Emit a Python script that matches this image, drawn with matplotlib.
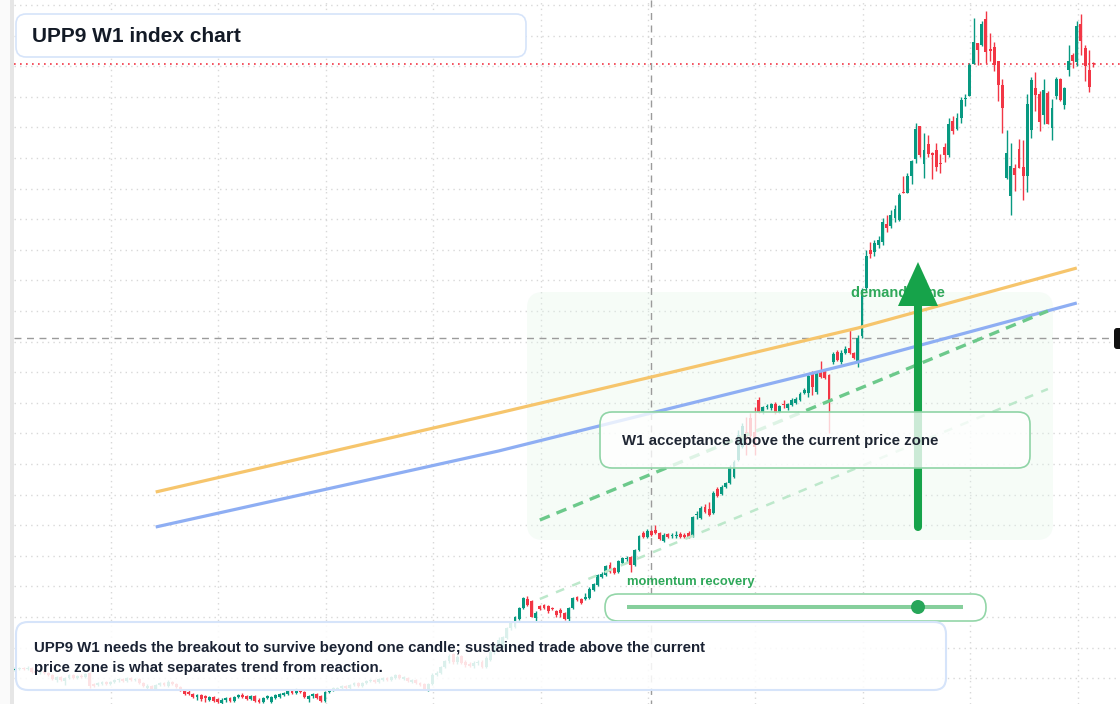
import numpy as np
import matplotlib.pyplot as plt
from matplotlib.patches import FancyBboxPatch, Rectangle, Circle, Polygon
from matplotlib.lines import Line2D
from matplotlib.transforms import Affine2D

plt.rcParams['font.family'] = ['Liberation Sans', 'DejaVu Sans']

W, H = 1120, 704
GREEN = '#089981'
RED = '#f23645'

# weekly candles (index points)
opens = [330, 331, 332, 331, 332, 329, 327, 329, 327, 325, 320, 323, 319, 322, 325, 322, 324, 323, 327, 316,
         315, 316, 318, 316, 318, 320, 321, 319, 322, 320, 321, 317, 312, 314, 311, 315, 317, 314, 318, 316,
         313, 310, 308, 306, 303, 305, 304, 300, 303, 301, 297, 300, 302, 299, 303, 305, 304, 301, 304, 300,
         298, 302, 298, 302, 303, 305, 306, 309, 307, 310, 308, 301, 304, 306, 304, 299, 308, 310, 311, 312,
         314, 312, 315, 317, 314, 317, 319, 320, 318, 320, 322, 320, 322, 325, 321, 322, 318, 320, 317, 316,
         310, 316, 325, 327, 333, 339, 346, 338, 344, 338, 336, 334, 337,
         338, 333, 340, 348, 354, 353, 362, 372, 373, 381, 392, 401, 399, 382, 394, 395, 394, 392, 389, 390,
         387, 381, 392, 403, 401, 401, 402, 410, 415, 423, 425, 435, 432, 428, 437, 441, 443, 435, 450, 467,
         463, 469, 470, 467, 459, 466, 464, 464, 466, 465, 467, 464, 485, 482, 493, 491, 487, 511, 506, 513,
         517,
         523, 540, 553, 568, 582, 568, 600, 588, 593, 592, 596, 588, 596, 592, 595, 597, 600, 607, 607, 626,
         608, 629, 629, 625, 638, 648, 638, 647, 652, 647, 637, 664,
         712, 750, 748, 755, 758, 776, 774, 782, 780,
         808, 807, 824, 841, 874, 836, 856, 847, 850, 837, 853, 845, 879, 871, 882, 901, 904, 936, 957, 955,
         981, 951, 953, 939, 915, 822, 804, 832, 851, 833, 824, 870, 912, 906, 885, 907, 872, 904, 921, 895,
         930, 945, 938, 976, 952, 930, 937]
highs = [333, 333, 333, 334, 333, 331, 330, 330, 328, 326, 324, 324, 323, 326, 326, 325, 326, 327, 328, 317,
         318, 319, 319, 319, 321, 322, 322, 323, 323, 322, 322, 318, 316, 315, 316, 318, 318, 320, 319, 317,
         314, 311, 310, 307, 306, 306, 305, 304, 304, 302, 302, 303, 303, 304, 306, 307, 305, 305, 305, 302,
         303, 305, 304, 306, 307, 308, 311, 310, 312, 311, 309, 305, 307, 307, 305, 309, 311, 313, 313, 315,
         315, 316, 318, 318, 318, 320, 321, 321, 322, 323, 323, 324, 326, 326, 324, 323, 321, 321, 318, 317,
         317, 327, 329, 334, 340, 346, 347, 345, 345, 340, 338, 339, 340,
         340, 344, 350, 357, 363, 364, 373, 378, 384, 393, 403, 404, 400, 389, 395, 396, 395, 393, 390, 392,
         388, 393, 403, 404, 402, 407, 413, 417, 426, 428, 435, 438, 433, 440, 443, 444, 444, 451, 465, 469,
         471, 470, 475, 468, 467, 467, 467, 469, 468, 467, 469, 484, 489, 494, 496, 498, 509, 513, 515, 518,
         535,
         540, 570, 577, 583, 587, 593, 603, 594, 596, 597, 598, 595, 600, 597, 602, 603, 608, 612, 626, 629,
         629, 639, 631, 626, 648, 650, 650, 654, 670, 648, 665, 712,
         750, 758, 760, 764, 782, 785, 790, 795, 807,
         824, 827, 840, 877, 874, 867, 865, 848, 857, 846, 857, 882, 884, 887, 903, 906, 937, 982, 957, 979,
         989, 967, 958, 939, 921, 870, 857, 836, 861, 860, 906, 923, 928, 909, 921, 909, 901, 923, 922, 913,
         955, 947, 979, 986, 955, 950, 938]
lows = [329, 330, 330, 330, 327, 326, 326, 326, 324, 320, 318, 319, 315, 321, 321, 321, 322, 322, 312, 313,
        314, 315, 315, 315, 317, 318, 318, 318, 319, 319, 316, 313, 310, 310, 310, 314, 314, 313, 315, 312,
        309, 305, 305, 302, 300, 299, 298, 299, 298, 297, 296, 298, 298, 298, 302, 302, 300, 300, 298, 297,
        297, 301, 297, 301, 302, 304, 305, 306, 306, 307, 302, 298, 302, 301, 298, 298, 307, 309, 310, 311,
        311, 311, 314, 313, 313, 316, 318, 317, 317, 319, 319, 319, 321, 321, 320, 318, 317, 316, 314, 310,
        309, 315, 324, 326, 332, 337, 336, 336, 336, 333, 333, 332, 335,
        332, 332, 339, 346, 352, 352, 361, 370, 372, 380, 391, 394, 383, 378, 390, 391, 387, 390, 383, 383,
        380, 379, 391, 399, 396, 400, 401, 409, 414, 422, 424, 427, 426, 427, 436, 438, 428, 434, 449, 462,
        462, 464, 466, 460, 458, 462, 462, 462, 462, 462, 462, 463, 481, 481, 487, 484, 486, 503, 505, 512,
        516,
        522, 539, 552, 545, 560, 545, 587, 586, 591, 590, 586, 587, 592, 590, 594, 596, 599, 606, 603, 605,
        606, 622, 621, 567, 636, 639, 636, 646, 646, 641, 633, 662,
        710, 742, 744, 752, 755, 768, 772, 778, 779,
        807, 807, 816, 837, 843, 822, 843, 821, 829, 827, 838, 843, 866, 870, 877, 894, 904, 936, 935, 954,
        937, 939, 929, 899, 867, 821, 785, 809, 832, 800, 808, 862, 889, 869, 876, 876, 860, 901, 899, 891,
        924, 932, 934, 945, 919, 908, 933]
closes = [331, 332, 331, 332, 328, 327, 329, 327, 325, 321, 323, 320, 322, 325, 322, 324, 323, 326, 314, 314,
          317, 318, 316, 318, 320, 321, 319, 322, 320, 321, 317, 314, 314, 311, 315, 317, 315, 318, 316, 313,
          310, 306, 306, 303, 305, 301, 302, 303, 299, 298, 300, 302, 299, 303, 305, 303, 301, 304, 299, 298,
          302, 304, 303, 305, 306, 307, 309, 307, 310, 308, 303, 304, 306, 302, 299, 308, 310, 312, 312, 314,
          312, 315, 317, 314, 317, 319, 320, 318, 321, 322, 320, 323, 325, 322, 323, 319, 320, 317, 315, 311,
          316, 325, 327, 333, 339, 344, 338, 343, 337, 335, 334, 337, 338,
          333, 342, 348, 354, 360, 363, 372, 377, 383, 392, 402, 395, 383, 387, 391, 392, 389, 391, 385, 387,
          381, 392, 402, 400, 397, 403, 411, 416, 425, 426, 434, 428, 427, 439, 442, 442, 435, 450, 464, 463,
          469, 465, 467, 461, 465, 463, 465, 465, 463, 463, 463, 483, 486, 492, 488, 485, 507, 504, 513, 517,
          533,
          538, 565, 574, 562, 564, 553, 588, 593, 594, 596, 587, 594, 595, 596, 600, 601, 606, 610, 624, 613,
          628, 623, 622, 598, 646, 640, 647, 651, 647, 642, 662, 710,
          744, 746, 757, 760, 778, 772, 785, 791, 805,
          807, 824, 839, 871, 845, 850, 846, 845, 833, 836, 845, 876, 869, 882, 900, 902, 935, 958, 950, 976,
          948, 949, 935, 915, 892, 847, 834, 825, 832, 824, 896, 920, 905, 878, 910, 876, 892, 921, 900, 912,
          939, 939, 974, 959, 934, 913, 936]

# moving averages read at a few weeks
ma_weeks = [34, 117, 154, 204, 257]
ma_slow = [508, 587, 623, 672, 732]
ma_fast = [473, 549, 587, 638, 697]

# trend channel (week, level)
chan_weeks = [127, 250]
chan_mid = [480, 689]
chan_low = [401, 611]

fig = plt.figure(figsize=(W / 100, H / 100), dpi=100)
ax = fig.add_axes([14 / W, 0, 1 - 14 / W, 1])
for s in ax.spines.values():
    s.set_visible(False)
ax.set_xticks(np.arange(23.2, 262, 26))
ax.set_yticks(np.arange(995, 296, -30.6))
ax.tick_params(length=0, labelbottom=False, labelleft=False)
ax.grid(True, color='#d8d8d8', lw=1, linestyle=(0, (1, 3)))
ax.set_axisbelow(True)

# pixel transform for the overlay layout (origin top-left)
px = Affine2D().scale(1 / W, -1 / H).translate(0, 1) + fig.transFigure

# left strip
fig.add_artist(Rectangle((0, 0), 10, H, transform=px, fc='#fafafa', ec='none'))
fig.add_artist(Rectangle((10, 0), 4, H, transform=px, fc='#e6e6e6', ec='none'))

# demand zone
ax.add_patch(FancyBboxPatch((527, 292), 526, 248, boxstyle='round,pad=0,rounding_size=16',
                            transform=px, fc='#e3f6e9', ec='none', alpha=0.32, zorder=1.5))

# candles
o, h, l, c = (np.array(v, float) for v in (opens, highs, lows, closes))
weeks = np.arange(len(o))
col = np.where(c >= o, GREEN, RED)
ax.vlines(weeks, l, h, colors=col, lw=1, zorder=3)
ax.bar(weeks, np.maximum(np.abs(c - o), 1.3), bottom=np.minimum(o, c), width=0.7,
       color=col, lw=0, zorder=3.1)

# last price line
ax.axhline(c[-1], color=RED, lw=1.2, linestyle=(0, (1, 2.6)), zorder=2)

# moving averages and channel
ax.plot(ma_weeks, ma_slow, color='#f6c56c', lw=2.3, zorder=4, solid_capstyle='butt')
ax.plot(ma_weeks, ma_fast, color='#8eaef3', lw=2.3, zorder=4, solid_capstyle='butt')
ax.plot(chan_weeks, chan_mid, color='#6cc98b', lw=2.4, linestyle=(0, (3.2, 2.2)), zorder=4)
ax.plot(chan_weeks, chan_low, color='#bde8cb', lw=1.8, linestyle=(0, (3.5, 3.5)), zorder=4)

ax.set_xlim(-0.305, 267.46)
ax.set_ylim(296, 1000)

# crosshair
ax.add_line(Line2D([651, 651], [0, H], transform=px, color='#9b9b9b', lw=1,
                   linestyle=(0, (5, 4)), zorder=2.5))
ax.add_line(Line2D([14, 1113], [338, 338], transform=px, color='#9b9b9b', lw=1,
                   linestyle=(0, (5, 4)), zorder=2.5))
fig.add_artist(FancyBboxPatch((1114, 328), 12, 21, boxstyle='round,pad=0,rounding_size=3',
                              transform=px, fc='#111111', ec='none'))

# demand zone label and arrow
ax.text(898, 293, 'demand zone', transform=px, ha='center', va='center', fontsize=10.5,
        fontweight='bold', color='#2fa85a', zorder=5)
ax.add_line(Line2D([918, 918], [527, 300], transform=px, color='#16a34a', lw=5.8,
                   solid_capstyle='round', zorder=5.5))
ax.add_patch(Polygon([[898, 306], [938, 306], [918, 262]], closed=True, transform=px,
                     fc='#16a34a', ec='none', zorder=5.5))

# acceptance box
ax.add_patch(FancyBboxPatch((600, 412), 430, 56, boxstyle='round,pad=0,rounding_size=12',
                            transform=px, fc=(1, 1, 1, 0.78), ec='#8fd4a6', lw=1.2, zorder=6))
ax.text(622, 441, 'W1 acceptance above the current price zone', transform=px, va='center',
        fontsize=10.8, fontweight='bold', color='#1f2633', zorder=8)

# momentum slider
ax.text(627, 582, 'momentum recovery', transform=px, va='center', fontsize=9.4,
        fontweight='bold', color='#2fa85a', zorder=8)
ax.add_patch(FancyBboxPatch((605, 594), 381, 27, boxstyle='round,pad=0,rounding_size=13',
                            transform=px, fc='white', ec='#93d6a8', lw=1.2, zorder=6))
ax.add_line(Line2D([627, 963], [607, 607], transform=px, color='#86cf9c', lw=2.9,
                   solid_capstyle='butt', zorder=7))
ax.add_patch(Circle((918, 607), 7, transform=px, fc='#27a659', ec='none', zorder=7.5))

# note box
ax.add_patch(FancyBboxPatch((16, 622), 930, 68, boxstyle='round,pad=0,rounding_size=12',
                            transform=px, fc=(1, 1, 1, 0.86), ec='#d6e4fa', lw=1.5, zorder=6))
ax.text(34, 648, 'UPP9 W1 needs the breakout to survive beyond one candle; sustained trade above the current',
        transform=px, va='center', fontsize=10.8, fontweight='bold', color='#1a2233', zorder=8)
ax.text(34, 668, 'price zone is what separates trend from reaction.', transform=px, va='center',
        fontsize=10.8, fontweight='bold', color='#1a2233', zorder=8)

# title box
ax.add_patch(FancyBboxPatch((16, 14), 510, 43, boxstyle='round,pad=0,rounding_size=10',
                            transform=px, fc='white', ec='#d6e4fa', lw=1.2, zorder=6))
ax.text(32, 36, 'UPP9 W1 index chart', transform=px, va='center', fontsize=15,
        fontweight='bold', color='#131a26', zorder=8)

fig.savefig('out.png', dpi=100)
